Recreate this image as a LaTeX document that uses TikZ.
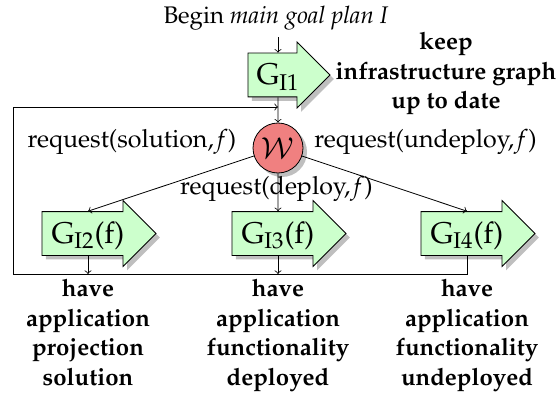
\documentclass[tikz,border=0pt]{standalone}
\usepackage[T1]{fontenc}
\usepackage{mathpazo}
\usetikzlibrary{shapes.arrows,shadows}
\definecolor{goalgreen}{RGB}{204,255,204}
\definecolor{wred}{RGB}{240,128,128}
\begin{document}
\begin{tikzpicture}[x=0.5pt,y=-0.5pt,
  font=\fontsize{12}{14.75}\selectfont,
  myshadow/.style={drop shadow={shadow xshift=2pt,shadow yshift=-2pt,fill=black!25,opacity=1}},
  goal/.style={single arrow, draw, fill=goalgreen, single arrow head extend=5.5pt,
    inner xsep=2pt, inner ysep=2pt, text height=13.5pt, text depth=4pt,
    font=\fontsize{15}{17}\selectfont, myshadow},
  wnode/.style={circle, draw, fill=wred, minimum size=25pt, inner sep=0pt,
    font=\fontsize{14.5}{17}\selectfont, myshadow},
  goallabel/.style={align=center, inner sep=0pt, font=\fontsize{12}{14.75}\selectfont\bfseries},
  reqlabel/.style={anchor=base, inner sep=0pt, font=\fontsize{12.5}{15}\selectfont},
  conn/.style={->}
]
\useasboundingbox (0,0) rectangle (557,401);

% nodes
\node (begin) at (276,18) {Begin \textit{main goal plan I}};
\node[goal, minimum height=41pt] (g1) at (278,75) {G$_{\mathrm{I1}}$};
\node[wnode] (w) at (278,148) {$\mathcal{W}$};
\node[goal, minimum height=57pt] (g2) at (88,233.5) {G$_{\mathrm{I2}}$(f)};
\node[goal, minimum height=57pt] (g3) at (278,233.5) {G$_{\mathrm{I3}}$(f)};
\node[goal, minimum height=57pt] (g4) at (467,233.5) {G$_{\mathrm{I4}}$(f)};

\node[goallabel, anchor=north] (lkeep) at (446,32) {keep\\infrastructure graph\\up to date};
\node[goallabel, anchor=north] (lproj) at (88,279) {have\\application\\projection\\solution};
\node[goallabel, anchor=north] (ldepd) at (278,279) {have\\application\\functionality\\deployed};
\node[goallabel, anchor=north] (lundepd) at (467,279) {have\\application\\functionality\\undeployed};

\node[reqlabel] (rsol) at (132,147.5) {request(solution,$f$)};
\node[reqlabel] (rundep) at (425.5,147.5) {request(undeploy,$f$)};
\node[reqlabel] (rdep) at (276.5,194) {request(deploy,$f$)};

% loop coordinates
\coordinate (loopbl) at (13,274);
\coordinate (looptl) at (13,107);

% connectors
\draw[conn] (g1.north |- begin.south) -- (g1.north);
\draw[conn] (g1.south) -- (w.north);
\draw[conn] (w) -- (g2.north);
\draw[conn] (w) -- (g3.north);
\draw[conn] (w) -- (g4.north);
\draw[conn] (g2.south) -- (g2.south |- loopbl);
\draw[conn] (g3.south) -- (g3.south |- loopbl);
\draw[conn] (g4.south) -- (g4.south |- loopbl) -- (loopbl) -- (looptl) -- (looptl -| w.north);
\end{tikzpicture}
\end{document}
